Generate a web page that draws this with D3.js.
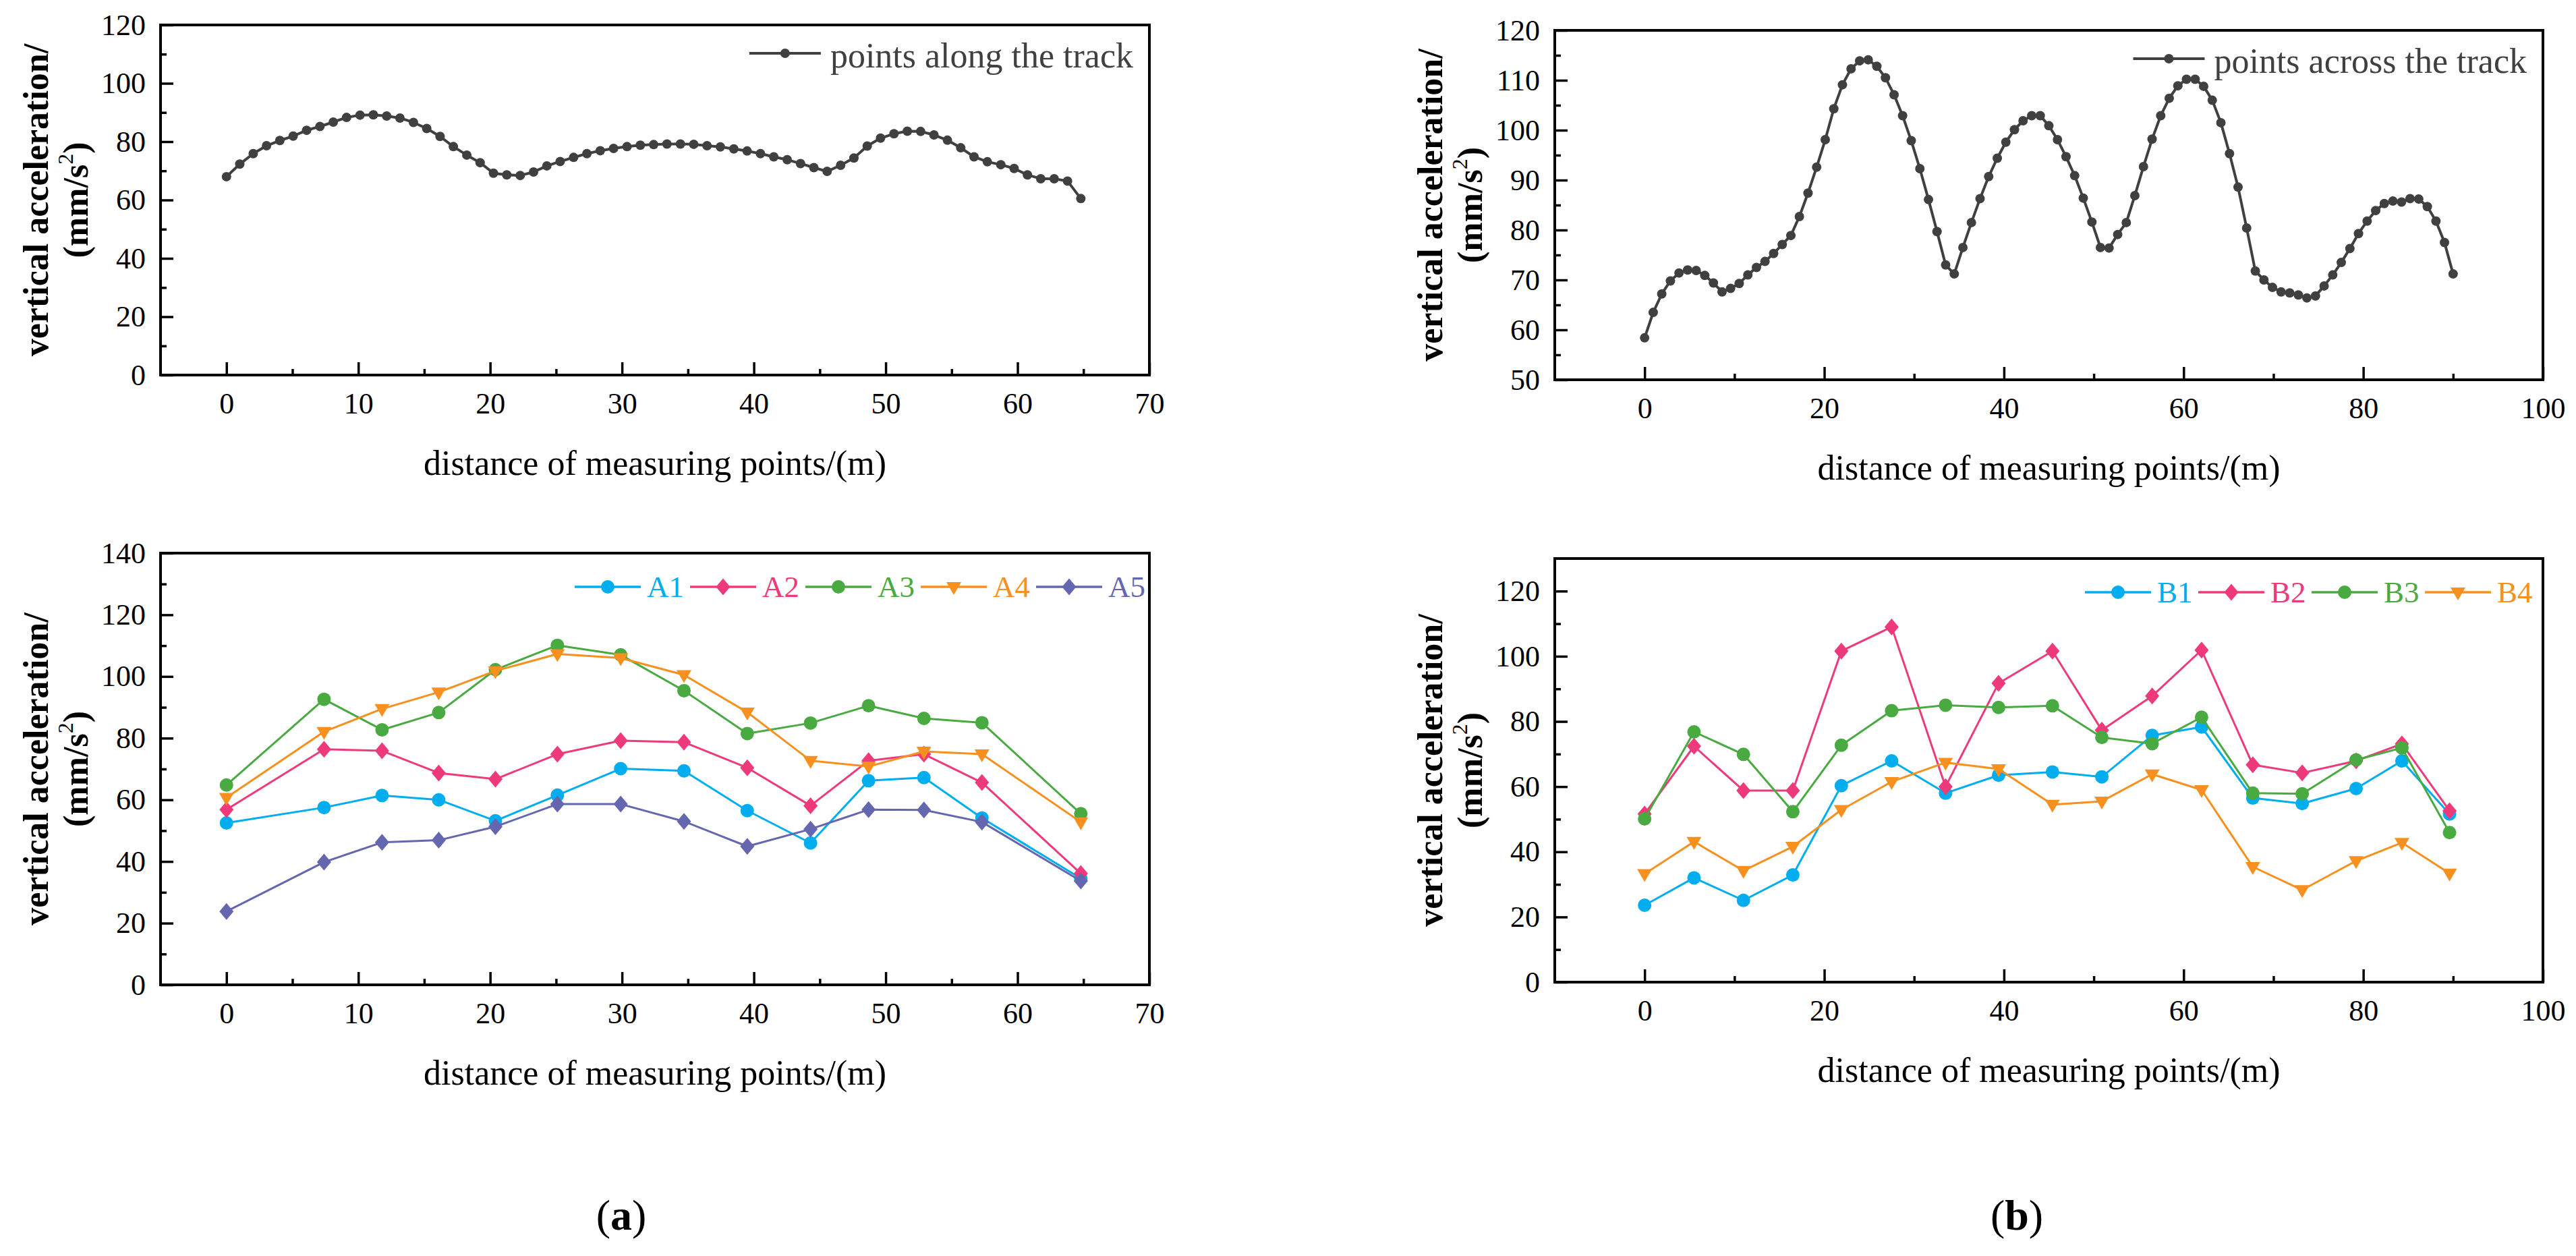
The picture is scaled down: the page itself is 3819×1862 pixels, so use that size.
<!DOCTYPE html>
<html>
<head>
<meta charset="utf-8">
<script src="https://cdn.jsdelivr.net/npm/d3@7"></script>
<style>
    html, body { margin: 0; padding: 0; background: #fff; }
    svg { display: block; }
</style>
</head>
<body>
<div id="chart"></div>
<script>
// ---- data ----

// (a) top: points along the track
const alongX = [0, 1.01, 2.03, 3.04, 4.05, 5.06, 6.08, 7.09, 8.10, 9.11, 10.13, 11.14, 12.15, 13.16, 14.18, 15.19,
    16.20, 17.21, 18.23, 19.24, 20.25, 21.26, 22.28, 23.29, 24.30, 25.31, 26.33, 27.34, 28.35, 29.36, 30.38, 31.39,
    32.40, 33.41, 34.43, 35.44, 36.45, 37.46, 38.48, 39.49, 40.50, 41.51, 42.53, 43.54, 44.55, 45.56, 46.58, 47.59,
    48.60, 49.61, 50.63, 51.64, 52.65, 53.66, 54.68, 55.69, 56.70, 57.71, 58.73, 59.74, 60.75, 61.76, 62.78, 63.79, 64.80];
const alongY = [68.0, 72.3, 75.9, 78.6, 80.4, 81.9, 83.9, 85.2, 86.7, 88.3, 89.1, 89.2, 88.8, 88.1, 86.6, 84.5,
    81.8, 78.3, 75.4, 72.8, 69.2, 68.6, 68.4, 69.6, 71.7, 73.2, 74.6, 75.9, 76.9, 77.7, 78.3, 78.8,
    79.0, 79.2, 79.2, 79.1, 78.6, 78.2, 77.5, 76.8, 75.9, 74.8, 73.8, 72.5, 71.1, 69.8, 71.9, 74.4,
    78.5, 81.2, 82.7, 83.6, 83.5, 82.3, 80.5, 77.9, 74.8, 73.1, 72.1, 70.8, 68.6, 67.3, 67.3, 66.5, 60.5];

// (b) top: points across the track
const acrossX = [0, 0.96, 1.91, 2.87, 3.83, 4.79, 5.74, 6.70, 7.66, 8.62, 9.57, 10.53, 11.49, 12.45, 13.40, 14.36,
    15.32, 16.28, 17.23, 18.19, 19.15, 20.11, 21.06, 22.02, 22.98, 23.94, 24.89, 25.85, 26.81, 27.77, 28.72, 29.68,
    30.64, 31.60, 32.55, 33.51, 34.47, 35.43, 36.38, 37.34, 38.30, 39.26, 40.21, 41.17, 42.13, 43.09, 44.04, 45.00,
    45.96, 46.91, 47.87, 48.83, 49.79, 50.74, 51.70, 52.66, 53.62, 54.57, 55.53, 56.49, 57.45, 58.40, 59.36, 60.32,
    61.28, 62.23, 63.19, 64.15, 65.11, 66.06, 67.02, 67.98, 68.94, 69.89, 70.85, 71.81, 72.77, 73.72, 74.68, 75.64,
    76.60, 77.55, 78.51, 79.47, 80.43, 81.38, 82.34, 83.30, 84.26, 85.21, 86.17, 87.13, 88.09, 89.04, 90.00];
const acrossY = [58.4, 63.5, 67.2, 69.8, 71.4, 72.0, 71.9, 70.9, 69.4, 67.6, 68.3, 69.3, 71.0, 72.5, 73.7, 75.3,
    77.1, 78.9, 82.7, 87.4, 92.6, 98.1, 104.3, 109.1, 112.3, 113.9, 114.1, 112.8, 110.5, 107.1, 102.9, 97.9,
    92.3, 86.1, 79.7, 73.0, 71.2, 76.5, 81.5, 86.3, 90.7, 94.4, 97.6, 100.1, 101.9, 102.9, 102.9, 100.9,
    98.1, 94.7, 90.9, 86.4, 81.6, 76.5, 76.4, 79.1, 81.5, 86.9, 92.7, 98.2, 102.9, 106.4, 108.9, 110.2,
    110.2, 108.8, 106.0, 101.5, 95.3, 88.6, 80.4, 71.8, 70.0, 68.5, 67.6, 67.4, 67.0, 66.4, 66.8, 68.8,
    71.0, 73.5, 76.3, 79.3, 81.8, 83.9, 85.3, 85.8, 85.6, 86.3, 86.2, 84.7, 81.8, 77.5, 71.2];

// (a) bottom: A1..A5
const aX = [0, 7.4, 11.8, 16.1, 20.4, 25.1, 29.9, 34.7, 39.5, 44.3, 48.7, 52.9, 57.3, 64.8];
const a1 = [52.5, 57.5, 61.4, 60.0, 53.2, 61.5, 70.1, 69.4, 56.5, 46.0, 66.2, 67.2, 54.1, 34.5];
const a2 = [56.8, 76.4, 75.9, 68.7, 66.7, 74.8, 79.2, 78.7, 70.4, 58.1, 72.7, 74.8, 65.6, 36.1];
const a3 = [64.8, 92.6, 82.7, 88.3, 102.2, 110.1, 107.0, 95.4, 81.5, 84.9, 90.5, 86.4, 85.0, 55.5];
const a4 = [60.7, 82.1, 89.5, 94.9, 101.8, 107.3, 106.0, 100.5, 88.4, 72.7, 70.8, 75.7, 74.8, 52.8];
const a5 = [23.8, 39.8, 46.2, 46.9, 51.3, 58.6, 58.6, 53.0, 44.9, 50.5, 56.8, 56.7, 52.8, 33.7];

// (b) bottom: B1..B4
const bX = [0, 5.5, 11.0, 16.5, 21.9, 27.5, 33.5, 39.4, 45.4, 50.9, 56.5, 62.0, 67.7, 73.2, 79.2, 84.3, 89.6];
const b1 = [23.6, 32.0, 25.1, 32.9, 60.3, 67.9, 58.0, 63.5, 64.5, 63.0, 75.7, 78.3, 56.5, 54.8, 59.4, 67.9, 51.6];
const b2 = [51.6, 72.4, 58.8, 58.8, 101.6, 109.0, 60.0, 91.7, 101.6, 77.3, 87.8, 101.9, 66.7, 64.2, 67.9, 73.1, 52.6];
const b3 = [50.1, 76.8, 69.9, 52.3, 72.7, 83.3, 85.0, 84.3, 84.8, 75.1, 73.2, 81.3, 58.0, 57.8, 68.2, 71.9, 45.9];
const b4 = [33.2, 43.1, 34.2, 41.6, 52.9, 61.5, 67.4, 65.4, 54.5, 55.5, 63.8, 59.0, 35.4, 28.3, 37.2, 42.8, 33.4];

// ticks
const aTicksX = [0, 10, 20, 30, 40, 50, 60, 70];
const aMinorX = [5, 15, 25, 35, 45, 55, 65];
const bTicksX = [0, 20, 40, 60, 80, 100];
const bMinorX = [10, 30, 50, 70, 90];
const aTopTicksY = [0, 20, 40, 60, 80, 100, 120];
const aTopMinorY = [10, 30, 50, 70, 90, 110];
const aBotTicksY = [0, 20, 40, 60, 80, 100, 120, 140];
const aBotMinorY = [10, 30, 50, 70, 90, 110, 130];
const bTopTicksY = [50, 60, 70, 80, 90, 100, 110, 120];
const bTopMinorY = [55, 65, 75, 85, 95, 105, 115];
const bBotTicksY = [0, 20, 40, 60, 80, 100, 120];
const bBotMinorY = [10, 30, 50, 70, 90, 110];

const xLabel = "distance of measuring points/(m)";
const yLabel1 = "vertical acceleration/";

// ---- drawing ----
const width = 3819;
const height = 1862;
const serif = "'Liberation Serif', 'Times New Roman', serif";
const dark = "#404040";

const colors = {
    A1: "#00aeef", A2: "#ee3a7a", A3: "#4aaa42", A4: "#f7901e", A5: "#6566b0",
    B1: "#00aeef", B2: "#ee3a7a", B3: "#4aaa42", B4: "#f7901e",
};

const svg = d3.select("#chart")
    .append("svg")
    .attr("width", width)
    .attr("height", height)
    .attr("viewBox", `0 0 ${width} ${height}`)
    .style("font-family", serif);

function markerPath(shape) {
    if (shape === "circle") return d3.symbol(d3.symbolCircle, Math.PI * 100)();
    if (shape === "diamond") return "M0,-12.5L10.5,0L0,12.5L-10.5,0Z";
    if (shape === "down") return "M-11,-7L11,-7L0,12Z";
    return d3.symbol(d3.symbolCircle, Math.PI * 49)();
}

function createPanel(box, xDomain, yDomain, xTicks, xMinor, yTicks, yMinor) {
    const g = svg.append("g");
    const x = d3.scaleLinear().domain(xDomain).range([box.left, box.right]);
    const y = d3.scaleLinear().domain(yDomain).range([box.bottom, box.top]);

    // major ticks point inwards
    g.append("g")
        .attr("transform", `translate(0,${box.bottom})`)
        .call(d3.axisBottom(x).tickValues(xTicks).tickSize(-19).tickPadding(26).tickFormat(d3.format("d")))
        .call((a) => a.select(".domain").remove())
        .call((a) => a.selectAll("line").attr("stroke", "#000").attr("stroke-width", 3.5))
        .call((a) => a.selectAll("text").attr("font-size", 44).attr("font-family", serif).attr("fill", "#000"));

    g.append("g")
        .attr("transform", `translate(0,${box.bottom})`)
        .call(d3.axisBottom(x).tickValues(xMinor).tickSize(-9).tickFormat(""))
        .call((a) => a.select(".domain").remove())
        .call((a) => a.selectAll("line").attr("stroke", "#000").attr("stroke-width", 3.5));

    g.append("g")
        .attr("transform", `translate(${box.left},0)`)
        .call(d3.axisLeft(y).tickValues(yTicks).tickSize(-19).tickPadding(22).tickFormat(d3.format("d")))
        .call((a) => a.select(".domain").remove())
        .call((a) => a.selectAll("line").attr("stroke", "#000").attr("stroke-width", 3.5))
        .call((a) => a.selectAll("text").attr("font-size", 44).attr("font-family", serif).attr("fill", "#000"));

    g.append("g")
        .attr("transform", `translate(${box.left},0)`)
        .call(d3.axisLeft(y).tickValues(yMinor).tickSize(-9).tickFormat(""))
        .call((a) => a.select(".domain").remove())
        .call((a) => a.selectAll("line").attr("stroke", "#000").attr("stroke-width", 3.5));

    // frame
    g.append("rect")
        .attr("x", box.left)
        .attr("y", box.top)
        .attr("width", box.right - box.left)
        .attr("height", box.bottom - box.top)
        .attr("fill", "none")
        .attr("stroke", "#000")
        .attr("stroke-width", 4);

    // x label
    g.append("text")
        .attr("x", (box.left + box.right) / 2)
        .attr("y", box.bottom + 148)
        .attr("text-anchor", "middle")
        .attr("font-size", 52)
        .attr("fill", "#000")
        .text(xLabel);

    // y label, two lines, bold
    const cy = (box.top + box.bottom) / 2;
    g.append("text")
        .attr("transform", `translate(${box.left - 167},${cy}) rotate(-90)`)
        .attr("text-anchor", "middle")
        .attr("font-size", 52)
        .attr("font-weight", "bold")
        .attr("fill", "#000")
        .text(yLabel1);

    const l2 = g.append("text")
        .attr("transform", `translate(${box.left - 108},${cy}) rotate(-90)`)
        .attr("text-anchor", "middle")
        .attr("font-size", 52)
        .attr("font-weight", "bold")
        .attr("fill", "#000");
    l2.append("tspan").text("(mm/s");
    l2.append("tspan").attr("font-size", 32).attr("font-weight", "normal").attr("dy", -22).text("2");
    l2.append("tspan").attr("dy", 22).text(")");

    return { g, x, y };
}

function drawSeries(p, xs, ys, color, shape, lineWidth) {
    const pts = xs.map((d, i) => [d, ys[i]]);
    const line = d3.line().x((d) => p.x(d[0])).y((d) => p.y(d[1]));
    p.g.append("path")
        .datum(pts)
        .attr("d", line)
        .attr("fill", "none")
        .attr("stroke", color)
        .attr("stroke-width", lineWidth)
        .attr("stroke-linejoin", "round");
    p.g.append("g")
        .selectAll("path")
        .data(pts)
        .enter()
        .append("path")
        .attr("d", markerPath(shape))
        .attr("transform", (d) => `translate(${p.x(d[0])},${p.y(d[1])})`)
        .attr("fill", color);
}

function singleLegend(p, box, label) {
    const textRight = box.right - 24;
    const t = p.g.append("text")
        .attr("x", textRight)
        .attr("y", box.top + 63)
        .attr("text-anchor", "end")
        .attr("font-size", 52)
        .attr("fill", dark)
        .text(label);
    const tw = t.node().getComputedTextLength();
    const x1 = textRight - tw - 14;
    const x0 = x1 - 106;
    const ly = box.top + 42;
    p.g.append("line")
        .attr("x1", x0).attr("x2", x1).attr("y1", ly).attr("y2", ly)
        .attr("stroke", dark).attr("stroke-width", 4);
    p.g.append("path")
        .attr("d", markerPath("small"))
        .attr("transform", `translate(${(x0 + x1) / 2},${ly})`)
        .attr("fill", dark);
}

function multiLegend(p, box, entries, startX, pitch) {
    const ly = box.top + 50;
    entries.forEach((e, i) => {
        const x0 = startX + i * pitch;
        p.g.append("line")
            .attr("x1", x0).attr("x2", x0 + 98).attr("y1", ly).attr("y2", ly)
            .attr("stroke", e.color).attr("stroke-width", 3.5);
        p.g.append("path")
            .attr("d", markerPath(e.shape))
            .attr("transform", `translate(${x0 + 49},${ly})`)
            .attr("fill", e.color);
        p.g.append("text")
            .attr("x", x0 + 107)
            .attr("y", ly + 15)
            .attr("font-size", 45)
            .attr("fill", e.color)
            .text(e.name);
    });
}

// (a) top
const boxA1 = { left: 238, right: 1704, top: 37, bottom: 556 };
const pA1 = createPanel(boxA1, [-5, 70], [0, 120], aTicksX, aMinorX, aTopTicksY, aTopMinorY);
drawSeries(pA1, alongX, alongY, dark, "small", 4);
singleLegend(pA1, boxA1, "points along the track");

// (a) bottom
const boxA2 = { left: 238, right: 1704, top: 820, bottom: 1460 };
const pA2 = createPanel(boxA2, [-5, 70], [0, 140], aTicksX, aMinorX, aBotTicksY, aBotMinorY);
const aSeries = [
    { name: "A1", ys: a1, shape: "circle" },
    { name: "A2", ys: a2, shape: "diamond" },
    { name: "A3", ys: a3, shape: "circle" },
    { name: "A4", ys: a4, shape: "down" },
    { name: "A5", ys: a5, shape: "diamond" },
];
aSeries.forEach((s) => drawSeries(pA2, aX, s.ys, colors[s.name], s.shape, 3));
multiLegend(pA2, boxA2, aSeries.map((s) => ({ ...s, color: colors[s.name] })), 852, 171);

// (b) top
const boxB1 = { left: 2305, right: 3770, top: 45, bottom: 563 };
const pB1 = createPanel(boxB1, [-10, 100], [50, 120], bTicksX, bMinorX, bTopTicksY, bTopMinorY);
drawSeries(pB1, acrossX, acrossY, dark, "small", 4);
singleLegend(pB1, boxB1, "points across the track");

// (b) bottom
const boxB2 = { left: 2305, right: 3770, top: 828, bottom: 1456 };
const pB2 = createPanel(boxB2, [-10, 100], [0, 130], bTicksX, bMinorX, bBotTicksY, bBotMinorY);
const bSeries = [
    { name: "B1", ys: b1, shape: "circle" },
    { name: "B2", ys: b2, shape: "diamond" },
    { name: "B3", ys: b3, shape: "circle" },
    { name: "B4", ys: b4, shape: "down" },
];
bSeries.forEach((s) => drawSeries(pB2, bX, s.ys, colors[s.name], s.shape, 3));
multiLegend(pB2, boxB2, bSeries.map((s) => ({ ...s, color: colors[s.name] })), 3091, 168);

// sub-figure captions
[["a", 921], ["b", 2990]].forEach(([letter, cx]) => {
    const t = svg.append("text")
        .attr("x", cx)
        .attr("y", 1823)
        .attr("text-anchor", "middle")
        .attr("font-size", 64)
        .attr("fill", "#000");
    t.append("tspan").text("(");
    t.append("tspan").attr("font-weight", "bold").text(letter);
    t.append("tspan").text(")");
});
</script>
</body>
</html>
